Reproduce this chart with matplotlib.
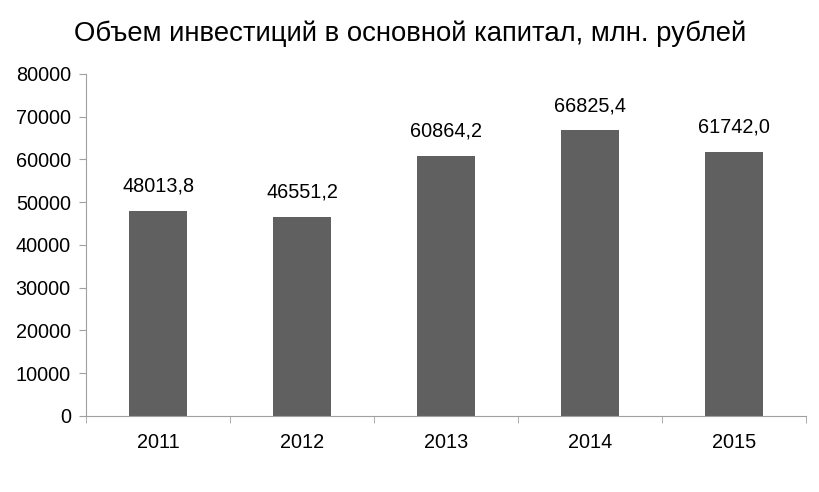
import numpy as np
import matplotlib.pyplot as plt

plt.rcParams['font.family'] = ['Liberation Sans', 'DejaVu Sans']

years = ['2011', '2012', '2013', '2014', '2015']
values = [48013.8, 46551.2, 60864.2, 66825.4, 61742.0]
title = 'Объем инвестиций в основной капитал, млн. рублей'

fig = plt.figure(figsize=(8.2, 4.92), dpi=100)
ax = fig.add_axes([0.105, 0.1545, 0.878, 0.6951])

x = np.arange(len(years))
ax.bar(x, values, width=0.4, color='#606060')

for xi, v in zip(x, values):
    ax.annotate(f'{v:.1f}'.replace('.', ','), (xi, v), xytext=(0, 11),
                textcoords='offset points', ha='center', va='bottom', fontsize=14.3)

ax.set_xlim(-0.5, len(years) - 0.5)
ax.set_ylim(0, 80000)
ax.set_yticks(np.arange(0, 80001, 10000))
ax.set_xticks(x)
ax.set_xticklabels(years)
ax.set_xticks(np.arange(-0.5, len(years)), minor=True)
ax.tick_params(axis='x', which='major', length=0, pad=12, labelsize=14.3)
ax.tick_params(axis='x', which='minor', length=5, color='#a0a0a0')
ax.tick_params(axis='y', length=5, color='#a0a0a0', labelsize=14.3, pad=6)

for s in ['top', 'right']:
    ax.spines[s].set_visible(False)
for s in ['left', 'bottom']:
    ax.spines[s].set_color('#a0a0a0')

fig.text(0.5, 0.932, title, ha='center', va='center', fontsize=19.8)

fig.savefig('out.png', dpi=100)
